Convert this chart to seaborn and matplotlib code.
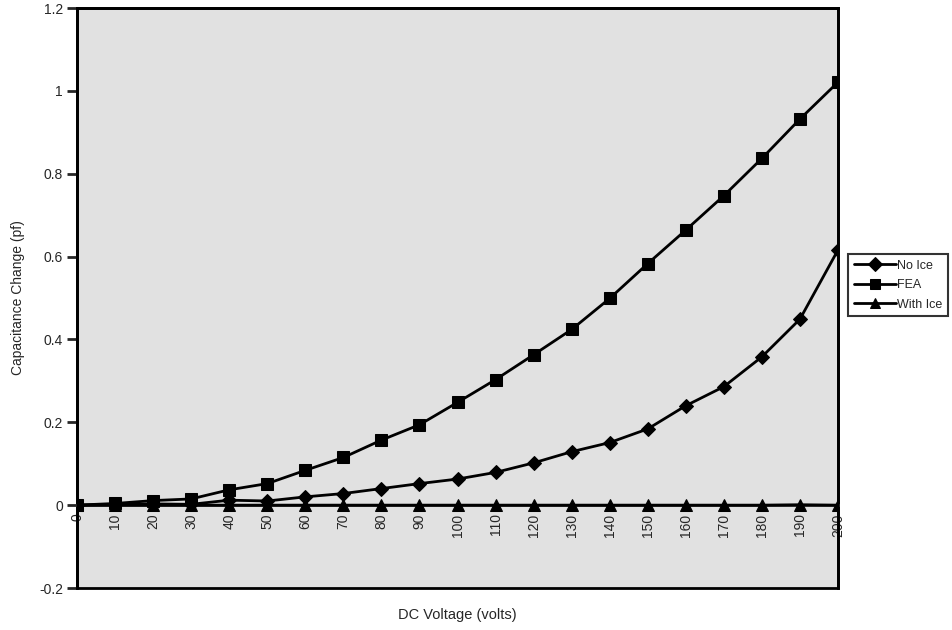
import numpy as np
import pandas as pd
import seaborn as sns
import matplotlib.pyplot as plt
from matplotlib.ticker import FuncFormatter

# values
voltage = [0, 10, 20, 30, 40, 50, 60, 70, 80, 90, 100,
           110, 120, 130, 140, 150, 160, 170, 180, 190, 200]
no_ice = [0.0, 0.002, 0.003, 0.002, 0.012, 0.010, 0.020, 0.028, 0.040, 0.052, 0.063,
          0.079, 0.102, 0.129, 0.151, 0.184, 0.240, 0.286, 0.358, 0.449, 0.616]
fea = [0.0, 0.004, 0.011, 0.015, 0.037, 0.052, 0.084, 0.115, 0.157, 0.194, 0.248,
       0.303, 0.363, 0.424, 0.499, 0.583, 0.664, 0.747, 0.837, 0.932, 1.021]
with_ice = [0.0, 0.0, 0.0, 0.0, 0.0, 0.0, 0.0, 0.0, 0.0, 0.0, 0.0,
            0.0, 0.0, 0.0, 0.0, 0.0, 0.0, 0.0, 0.0, 0.001, 0.0]
y_ticks = [-0.2, 0, 0.2, 0.4, 0.6, 0.8, 1.0, 1.2]

df = pd.DataFrame({'volts': voltage, 'No Ice': no_ice, 'FEA': fea, 'With Ice': with_ice})

sns.set_style('white')
plt.rcParams['font.family'] = ['Liberation Sans', 'DejaVu Sans']

fig = plt.figure(figsize=(9.52, 6.3), dpi=100)
ax = fig.add_axes([77/952, 1 - 588/630, 761/952, 580/630])
ax.set_facecolor('#e1e1e1')

# category axis crosses at zero (do this first: it resets the ticks)
ax.spines['bottom'].set_position(('data', 0))
ax.spines['bottom'].set_linewidth(2)
for s in ['left', 'top', 'right']:
    ax.spines[s].set_linewidth(2)
    ax.spines[s].set_color('black')
ax.patch.set_edgecolor('black')
ax.patch.set_linewidth(2)

sns.lineplot(data=df, x='volts', y='No Ice', ax=ax, color='black', lw=2,
             marker='D', markersize=7.5, markeredgecolor='black', label='No Ice', zorder=3)
sns.lineplot(data=df, x='volts', y='FEA', ax=ax, color='black', lw=2,
             marker='s', markersize=8, markeredgecolor='black', label='FEA', zorder=3)
sns.lineplot(data=df, x='volts', y='With Ice', ax=ax, color='black', lw=2,
             marker='^', markersize=8, markeredgecolor='black', label='With Ice', zorder=4)

ax.set_xlim(0, 200)
ax.set_ylim(-0.2, 1.2)
ax.set_xticks(voltage)
ax.set_xticklabels([str(v) for v in voltage], rotation=90, fontsize=10, va='top')
ax.set_yticks(y_ticks)
ax.yaxis.set_major_formatter(FuncFormatter(lambda v, p: '%g' % round(v, 2)))
ax.tick_params(axis='y', direction='out', length=7, width=2, labelsize=10, pad=3, left=True)
ax.tick_params(axis='x', length=0, pad=6, bottom=True)

ax.set_xlabel('DC Voltage (volts)', fontsize=10.5)
ax.set_ylabel('Capacitance Change (pf)', fontsize=10)
ax.xaxis.set_label_coords(0.5, -0.034)
ax.yaxis.set_label_coords(-0.068, 0.5)

leg = ax.legend(loc='upper left', bbox_to_anchor=(848/952, 1 - 254/630),
                bbox_transform=fig.transFigure, fontsize=9, frameon=True,
                fancybox=False, edgecolor='black', handlelength=3.4,
                handletextpad=0.1, borderpad=0.45, labelspacing=0.6,
                borderaxespad=0, markerscale=0.95)
leg.get_frame().set_linewidth(1.5)
leg.get_frame().set_facecolor('white')

fig.savefig('out.png', dpi=100)
